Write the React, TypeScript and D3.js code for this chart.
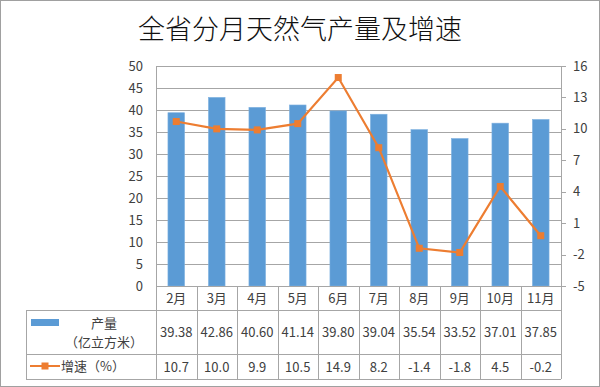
import * as d3 from "d3";

const months = ["2月", "3月", "4月", "5月", "6月", "7月", "8月", "9月", "10月", "11月"];
const output = [39.38, 42.86, 40.6, 41.14, 39.8, 39.04, 35.54, 33.52, 37.01, 37.85];
const growth = [10.7, 10.0, 9.9, 10.5, 14.9, 8.2, -1.4, -1.8, 4.5, -0.2];
const leftTicks = [0, 5, 10, 15, 20, 25, 30, 35, 40, 45, 50];
const rightTicks = [-5, -2, 1, 4, 7, 10, 13, 16];

const BLUE = "#5b9bd5";
const ORANGE = "#ed7d31";
const GRID = "#a6a6a6";
const FONT = "'Noto Sans CJK SC', 'Noto Sans', sans-serif";

export default function App() {
  const W = 600;
  const H = 387;
  const left = 156;
  const right = 561;
  const top = 66;
  const bottom = 286;
  const row1 = 310;
  const row2 = 354;
  const row3 = 379;
  const tableLeft = 26;

  const x = d3.scaleBand<string>().domain(months).range([left, right]).padding(0);
  const yL = d3.scaleLinear().domain([0, 50]).range([bottom, top]);
  const yR = d3.scaleLinear().domain([-5, 16]).range([bottom, top]);
  const barW = x.bandwidth() * 0.41;
  const cx = (m: string) => (x(m) ?? 0) + x.bandwidth() / 2;

  const line = d3
    .line<number>()
    .x((_, i) => cx(months[i]))
    .y((d) => yR(d));

  return (
    <svg
      width={W}
      height={H}
      style={{ position: "absolute", left: 0, top: 0, fontFamily: FONT }}
    >
      <rect x={0} y={0} width={W} height={H} fill="#fff" />
      <rect x={0.5} y={0.5} width={W - 1} height={H - 1} fill="none" stroke="#a0a0a0" />

      <text x={300} y={39} textAnchor="middle" fontSize={27} fontWeight={300} fill="#111">
        全省分月天然气产量及增速
      </text>

      {/* gridlines */}
      {leftTicks.map((t) => (
        <line key={t} x1={left} x2={right} y1={Math.round(yL(t)) + 0.5} y2={Math.round(yL(t)) + 0.5} stroke={GRID} />
      ))}

      {/* left axis labels */}
      {leftTicks.map((t) => (
        <text key={t} x={143} y={yL(t) + 4.5} textAnchor="end" fontSize={13} fill="#404040">
          {t}
        </text>
      ))}

      {/* right axis */}
      <line x1={right + 0.5} x2={right + 0.5} y1={top} y2={bottom} stroke={GRID} />
      {rightTicks.map((t) => (
        <g key={t}>
          <line x1={right} x2={right + 5} y1={Math.round(yR(t)) + 0.5} y2={Math.round(yR(t)) + 0.5} stroke={GRID} />
          <text x={573} y={yR(t) + 4.5} fontSize={13} fill="#404040">
            {t}
          </text>
        </g>
      ))}

      {/* bars */}
      {output.map((v, i) => (
        <rect
          key={months[i]}
          x={cx(months[i]) - barW / 2}
          y={yL(v)}
          width={barW}
          height={bottom - yL(v)}
          fill={BLUE}
          stroke="#7fb1e0"
          strokeWidth={0.6}
        />
      ))}

      {/* growth line */}
      <path d={line(growth) ?? ""} fill="none" stroke={ORANGE} strokeWidth={2.2} />
      {growth.map((v, i) => (
        <rect key={months[i]} x={cx(months[i]) - 3.5} y={yR(v) - 3.5} width={7} height={7} fill={ORANGE} />
      ))}

      {/* data table */}
      <g stroke={GRID} fill="none">
        <line x1={left + 0.5} x2={left + 0.5} y1={top} y2={row3} />
        <line x1={left} x2={right + 5} y1={bottom + 0.5} y2={bottom + 0.5} />
        <line x1={tableLeft} x2={right} y1={row1 + 0.5} y2={row1 + 0.5} />
        <line x1={tableLeft} x2={right} y1={row2 + 0.5} y2={row2 + 0.5} />
        <line x1={tableLeft} x2={right} y1={row3 + 0.5} y2={row3 + 0.5} />
        <line x1={tableLeft + 0.5} x2={tableLeft + 0.5} y1={row1} y2={row3} />
        {months.map((m) => (
          <line
            key={m}
            x1={Math.round((x(m) ?? 0) + x.bandwidth()) + 0.5}
            x2={Math.round((x(m) ?? 0) + x.bandwidth()) + 0.5}
            y1={bottom}
            y2={row3}
          />
        ))}
      </g>

      {months.map((m, i) => (
        <g key={m} fontSize={13} fill="#404040" textAnchor="middle">
          <text x={cx(m)} y={303}>{m}</text>
          <text x={cx(m)} y={337}>{output[i].toFixed(2)}</text>
          <text x={cx(m)} y={372}>{growth[i].toFixed(1)}</text>
        </g>
      ))}

      {/* legend keys in table */}
      <rect x={31} y={319} width={28} height={7} fill={BLUE} />
      <text x={104} y={328} textAnchor="middle" fontSize={13} fill="#404040">产量</text>
      <text x={104} y={347} textAnchor="middle" fontSize={13} fill="#404040">（亿立方米）</text>
      <line x1={30} x2={60} y1={366} y2={366} stroke={ORANGE} strokeWidth={2} />
      <rect x={41.5} y={362.5} width={7} height={7} fill={ORANGE} />
      <text x={61} y={371} fontSize={13} fill="#404040">增速（%）</text>
    </svg>
  );
}
